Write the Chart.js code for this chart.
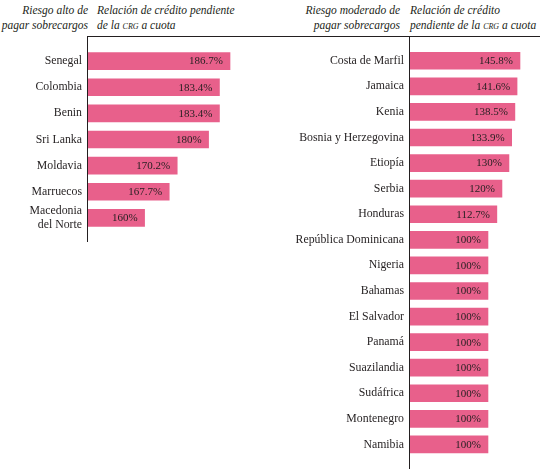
<!DOCTYPE html>
<html lang="es">
<head>
<meta charset="utf-8">
<title>Relación de crédito pendiente de la CRG a cuota</title>
<script src="https://cdn.jsdelivr.net/npm/chart.js@4.4.1/dist/chart.umd.min.js"></script>
<style>
    html, body {
        margin: 0;
        padding: 0;
        background: #ffffff;
    }
    body {
        position: relative;
        width: 542px;
        height: 469px;
        overflow: hidden;
        font-family: "Liberation Serif", "DejaVu Serif", serif;
        color: #231f20;
    }
    .head {
        position: absolute;
        top: 3px;
        font-size: 11.5px;
        font-style: italic;
        line-height: 15px;
        white-space: nowrap;
    }
    .head.right-align { text-align: right; }
    .sc { font-variant: small-caps; }
    .rule {
        position: absolute;
        left: 87px;
        top: 36px;
        width: 453px;
        height: 1px;
        background: #231f20;
    }
    .panel {
        position: absolute;
        top: 0;
        height: 469px;
    }
</style>
</head>
<body>
<div class="head right-align" style="right: 454px;">Riesgo alto de<br>pagar sobrecargos</div>
<div class="head" style="left: 97px;">Relación de crédito pendiente<br>de la <span class="sc">crg</span> a cuota</div>
<div class="head right-align" style="right: 142px;">Riesgo moderado de<br>pagar sobrecargos</div>
<div class="head" style="left: 410px;">Relación de crédito<br>pendiente de la <span class="sc">crg</span> a cuota</div>
<div class="rule"></div>

<div class="panel" style="left: 0; width: 270px;"><canvas id="highRiskChart"></canvas></div>
<div class="panel" style="left: 270px; width: 272px;"><canvas id="moderateRiskChart"></canvas></div>

<script>
// High risk of paying surcharges
const highRiskCountries = ['Senegal', 'Colombia', 'Benin', 'Sri Lanka', 'Moldavia', 'Marruecos', ['Macedonia', 'del Norte']];
const highRiskValues = [186.7, 183.4, 183.4, 180, 170.2, 167.7, 160];

// Moderate risk of paying surcharges
const moderateRiskCountries = ['Costa de Marfil', 'Jamaica', 'Kenia', 'Bosnia y Herzegovina', 'Etiopía', 'Serbia',
    'Honduras', 'República Dominicana', 'Nigeria', 'Bahamas', 'El Salvador', 'Panamá', 'Suazilandia',
    'Sudáfrica', 'Montenegro', 'Namibia'];
const moderateRiskValues = [145.8, 141.6, 138.5, 133.9, 130, 120, 112.7, 100, 100, 100, 100, 100, 100, 100, 100, 100];

const BAR_COLOR = '#e8608b';
const TEXT_COLOR = '#231f20';
const SERIF = '"Liberation Serif", "DejaVu Serif", serif';

// Draws the vertical axis line and the value labels inside the bars
const barDecor = {
    id: 'barDecor',
    afterDatasetsDraw(chart, args, opts) {
        const { ctx, chartArea } = chart;
        ctx.save();

        const x = Math.round(chartArea.left) + 0.5;
        const bottom = opts.toCanvasBottom ? chart.height : chartArea.bottom + 11;
        ctx.strokeStyle = TEXT_COLOR;
        ctx.lineWidth = 1;
        ctx.beginPath();
        ctx.moveTo(x, chartArea.top - 12);
        ctx.lineTo(x, bottom);
        ctx.stroke();

        ctx.fillStyle = TEXT_COLOR;
        ctx.font = '11px ' + SERIF;
        ctx.textAlign = 'right';
        ctx.textBaseline = 'middle';
        const values = chart.data.datasets[0].data;
        chart.getDatasetMeta(0).data.forEach((bar, i) => {
            ctx.fillText(`${values[i]}%`, bar.x - 7, bar.y + 0.5);
        });
        ctx.restore();
    }
};

function buildChart(canvasId, labels, values, scaleMin, scaleMax, axisWidth, padBottom, toCanvasBottom) {
    const ctx = document.getElementById(canvasId).getContext('2d');
    return new Chart(ctx, {
        type: 'bar',
        data: {
            labels: labels,
            datasets: [{
                data: values,
                base: scaleMin,
                backgroundColor: BAR_COLOR,
                borderWidth: 0,
                barThickness: 17
            }]
        },
        options: {
            indexAxis: 'y',
            responsive: true,
            maintainAspectRatio: false,
            animation: false,
            layout: {
                padding: { top: 48, bottom: padBottom, left: 0, right: 0 }
            },
            plugins: {
                legend: { display: false },
                tooltip: { enabled: false },
                barDecor: { toCanvasBottom: toCanvasBottom }
            },
            scales: {
                x: {
                    display: false,
                    min: scaleMin,
                    max: scaleMax
                },
                y: {
                    grid: { display: false, drawTicks: false },
                    border: { display: false },
                    ticks: {
                        autoSkip: false,
                        padding: 5,
                        color: TEXT_COLOR,
                        font: { family: SERIF, size: 11.8, lineHeight: 1.15 }
                    },
                    afterFit: (scale) => {
                        scale.width = axisWidth;
                    }
                }
            }
        },
        plugins: [barDecor]
    });
}

document.addEventListener('DOMContentLoaded', () => {
    buildChart('highRiskChart', highRiskCountries, highRiskValues, 142, 199.2, 87, 238, false);
    buildChart('moderateRiskChart', moderateRiskCountries, moderateRiskValues, -13, 177.3, 139, 8.6, true);
});
</script>
</body>
</html>
